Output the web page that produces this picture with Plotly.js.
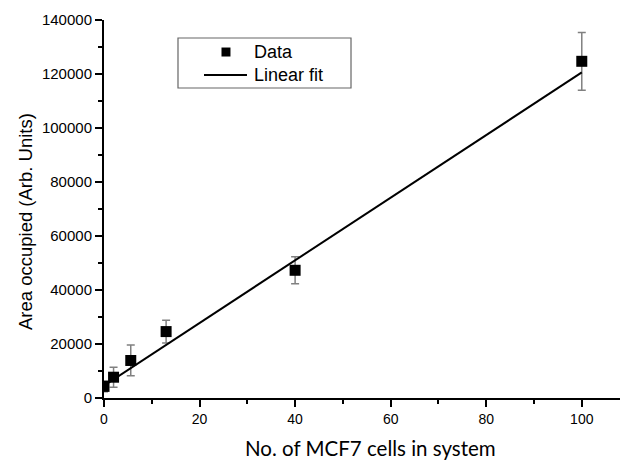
<!DOCTYPE html>
<html>
<head>
<meta charset="utf-8">
<script src="https://cdn.plot.ly/plotly-3.0.1.min.js"></script>
<style>html,body{margin:0;padding:0;background:#fff;}#chart{width:620px;height:464px;}</style>
</head>
<body>
<div id="chart"></div>
<script>
// Data
const cells = [0, 2, 5.6, 13, 40, 100];
const area = [4300, 7700, 13900, 24600, 47300, 124700];
const areaErr = [2000, 3700, 5700, 4200, 5000, 10700];
const fitX = [0, 100];
const fitY = [4600, 120600];
const xTicks = [0, 20, 40, 60, 80, 100];
const yTicks = [0, 20000, 40000, 60000, 80000, 100000, 120000, 140000];
const legendLabels = ['Data', 'Linear fit'];
const xTitle = 'No. of MCF7 cells in system';
const yTitle = 'Area occupied (Arb. Units)';

const SANS = '"Liberation Sans", Arial, Helvetica, sans-serif';

const traces = [
  {
    x: cells, y: area, type: 'scatter', mode: 'markers', name: legendLabels[0],
    marker: {symbol: 'square', size: 11, color: '#000'},
    error_y: {type: 'data', array: areaErr, visible: true, color: '#808080', thickness: 1.5, width: 4}
  },
  {
    x: fitX, y: fitY, type: 'scatter', mode: 'lines', name: legendLabels[1],
    line: {color: '#000', width: 2}
  }
];

const layout = {
  width: 620, height: 464,
  margin: {l: 104, r: 0, t: 20, b: 66},
  paper_bgcolor: '#fff', plot_bgcolor: '#fff',
  showlegend: false,
  xaxis: {
    range: [0, 108], tickvals: xTicks, ticktext: xTicks.map(String),
    showgrid: false, zeroline: false, showline: true, linecolor: '#000', linewidth: 2,
    ticks: 'outside', ticklen: 7, tickwidth: 2, tickcolor: '#000',
    minor: {dtick: 10, ticks: 'outside', ticklen: 4, tickwidth: 2, tickcolor: '#000'},
    tickfont: {family: SANS, size: 14, color: '#000'}
  },
  yaxis: {
    range: [0, 140000], tickvals: yTicks, ticktext: yTicks.map(String),
    showgrid: false, zeroline: false, showline: true, linecolor: '#000', linewidth: 2,
    ticks: 'outside', ticklen: 7, tickwidth: 2, tickcolor: '#000',
    minor: {dtick: 10000, ticks: 'outside', ticklen: 4, tickwidth: 2, tickcolor: '#000'},
    tickfont: {family: SANS, size: 15, color: '#000'}
  },
  shapes: [
    // legend box
    {type: 'rect', xref: 'paper', yref: 'paper', x0: 0.1434, x1: 0.4787, y0: 0.8201, y1: 0.9524,
     line: {color: '#666', width: 1.2}, fillcolor: '#fff', layer: 'above'},
    // legend marker
    {type: 'rect', xref: 'paper', yref: 'paper', x0: 0.2277, x1: 0.2451, y0: 0.9034, y1: 0.9272,
     line: {width: 0}, fillcolor: '#000', layer: 'above'},
    // legend line
    {type: 'line', xref: 'paper', yref: 'paper', x0: 0.1938, x1: 0.2771, y0: 0.8545, y1: 0.8545,
     line: {color: '#000', width: 2}, layer: 'above'}
  ],
  annotations: [
    {xref: 'paper', yref: 'paper', x: 0.2868, y: 0.9153, xanchor: 'left', yanchor: 'middle',
     text: legendLabels[0], showarrow: false, font: {family: SANS, size: 18, color: '#000'}},
    {xref: 'paper', yref: 'paper', x: 0.2868, y: 0.8545, xanchor: 'left', yanchor: 'middle',
     text: legendLabels[1], showarrow: false, font: {family: SANS, size: 18, color: '#000'}},
    {xref: 'paper', yref: 'paper', x: 0.5174, y: -0.1323, xanchor: 'center', yanchor: 'middle',
     text: xTitle, showarrow: false, font: {family: 'Lato, sans-serif', size: 20.5, color: '#000'}},
    {xref: 'paper', yref: 'paper', x: -0.153, y: 0.4656, xanchor: 'center', yanchor: 'middle', textangle: -90,
     text: yTitle, showarrow: false, font: {family: SANS, size: 18.5, color: '#000'}}
  ]
};

Plotly.newPlot('chart', traces, layout, {staticPlot: true, displayModeBar: false});
</script>
</body>
</html>
